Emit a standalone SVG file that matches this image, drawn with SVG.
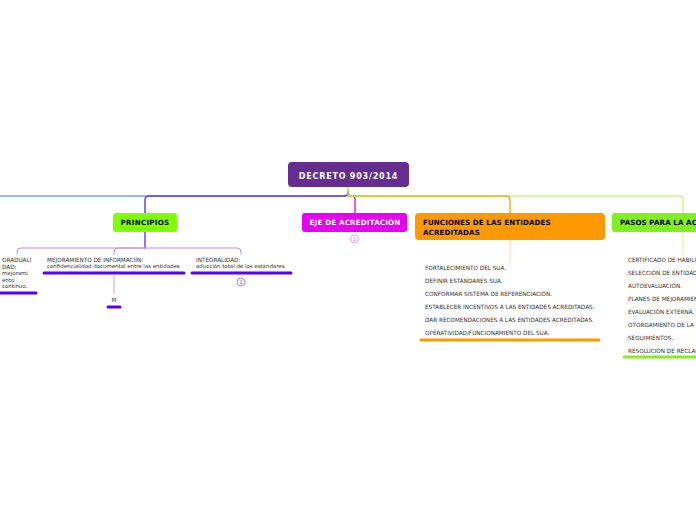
<svg xmlns="http://www.w3.org/2000/svg" width="696" height="520" viewBox="0 0 696 520">
<style>
.t{font-family:"DejaVu Sans",Verdana,sans-serif;}
.b{font-weight:bold;font-size:7.1px;}
.sm{font-size:5.7px;fill:#333;}
.lw{font-size:5.45px;fill:#333;}
.li{font-size:5.7px;fill:#333;}
.ul{fill:none;stroke-width:3;stroke-linecap:round;}
.cn{fill:none;stroke-linecap:round;}
.ci{fill:#fff;stroke-width:0.8;}
</style>
<rect width="696" height="520" fill="#fff"/>
<g id="connectors">
  <path class="cn" d="M348,192 Q348,196 344,196 H0" stroke="#70a4f2" stroke-width="1.5"/>
  <path class="cn" d="M348,192 Q348,196 344,196 H149 Q145,196 145,200 V213" stroke="#6b3cf5" stroke-width="1.5"/>
  <path class="cn" d="M348,192 Q348,196 352,196 Q355,196 355,199 V213" stroke="#e800f0" stroke-width="1.3"/>
  <path class="cn" d="M348,196 H679 Q683,196 683,200 V213" stroke="#c8f890" stroke-width="1.5"/>
  <path class="cn" d="M348,196 H506 Q510,196 510,200 V213" stroke="#ffa000" stroke-width="1.3"/>
  <path class="cn" d="M348,187 V196 H506" stroke="#b8e03c" stroke-width="1.5"/>
  <path class="cn" d="M145,232 V248" stroke="#7a40f0" stroke-width="1.5"/>
  <path class="cn" d="M145,248 H21 Q17,248 17,252 V254" stroke="#b090f5" stroke-width="1"/>
  <path class="cn" d="M145,248 H237 Q241,248 241,252 V254" stroke="#b090f5" stroke-width="1"/>
  <path class="cn" d="M145,248 H118 Q114,248 114,252 V254" stroke="#b090f5" stroke-width="1"/>
  <path class="cn" d="M114,276 V294" stroke="#c0a0f8" stroke-width="1"/>
  <path class="cn" d="M510,240 V262" stroke="#ffd890" stroke-width="1"/>
  <path class="cn" d="M683,232 V253" stroke="#c8f890" stroke-width="1"/>
</g>
<g id="decreto">
  <rect x="288" y="162" width="121" height="25" rx="4" fill="#652d90"/>
  <text class="t" x="348.5" y="178.5" font-size="8" font-weight="bold" fill="#fff" text-anchor="middle" letter-spacing="0.8">DECRETO 903/2014</text>
</g>
<g id="principios">
  <rect x="113" y="213" width="64" height="19" rx="3" fill="#80ff00"/>
  <text class="t b" x="145" y="225" fill="#000" text-anchor="middle" letter-spacing="0.3">PRINCIPIOS</text>
</g>
<g id="gradualidad">
  <text class="t sm" x="2" y="262">GRADUALI</text>
  <text class="t sm" x="2" y="268.5">DAD:</text>
  <text class="t lw" x="2" y="275">mejorami</text>
  <text class="t lw" x="2" y="281.5">ento</text>
  <text class="t lw" x="2" y="288">continuo.</text>
  <path class="ul" d="M0,293 H36" stroke="#5500ff"/>
</g>
<g id="mejoramiento">
  <text class="t sm" x="47" y="262">MEJORAMIENTO DE INFORMACIÍN:</text>
  <text class="t lw" x="47" y="268.3">confidencialidad documental entre las entidades</text>
  <path class="ul" d="M44,273 H184" stroke="#5500ff"/>
</g>
<g id="m">
  <text class="t sm" x="114" y="302" text-anchor="middle">M</text>
  <path class="ul" d="M108,307 H120" stroke="#5500ff"/>
</g>
<g id="integralidad">
  <text class="t sm" x="196" y="262">INTEGRALIDAD:</text>
  <text class="t lw" x="196" y="268.3">aducción total de los estándares.</text>
  <path class="ul" d="M192,273 H291" stroke="#5500ff"/>
  <circle class="ci" cx="241" cy="282" r="4" stroke="#9966ff"/>
  <text class="t" x="241" y="284" font-size="5" fill="#7744dd" text-anchor="middle">1</text>
</g>
<g id="eje">
  <rect x="302" y="213" width="105" height="19" rx="3" fill="#e800f0"/>
  <text class="t b" x="355" y="225" fill="#fff" text-anchor="middle" letter-spacing="0.2">EJE DE ACREDITACIÓN</text>
  <circle class="ci" cx="354.5" cy="239" r="4" stroke="#ee80ee"/>
  <text class="t" x="354.5" y="241" font-size="5" fill="#dd66dd" text-anchor="middle">1</text>
</g>
<g id="funciones">
  <rect x="415" y="213" width="190" height="27" rx="4" fill="#ff9900"/>
  <text class="t b" x="423" y="225" fill="#000" letter-spacing="0.1">FUNCIONES DE LAS ENTIDADES</text>
  <text class="t b" x="423" y="234.5" fill="#000" letter-spacing="0.1">ACREDITADAS</text>
  <text class="t li" x="425" y="270">FORTALECIMIENTO DEL SUA.</text>
  <text class="t li" x="425" y="283">DEFINIR ESTÁNDARES SUA.</text>
  <text class="t li" x="425" y="296">CONFORMAR SISTEMA DE REFERENCIACIÓN.</text>
  <text class="t li" x="425" y="309">ESTABLECER INCENTIVOS A LAS ENTIDADES ACREDITADAS.</text>
  <text class="t li" x="425" y="322">DAR RECOMENDACIONES A LAS ENTIDADES ACREDITADAS.</text>
  <text class="t li" x="425" y="335">OPERATIVIDAD/FUNCIONAMIENTO DEL SUA.</text>
  <path class="ul" d="M421,340 H599" stroke="#ff9900"/>
</g>
<g id="pasos">
  <rect x="612" y="213" width="100" height="19" rx="3" fill="#80f020"/>
  <text class="t b" x="620" y="225" fill="#000" letter-spacing="0.1">PASOS PARA LA ACREDITACIÓN</text>
  <text class="t li" x="628" y="262">CERTIFICADO DE HABILITACIÓN.</text>
  <text class="t li" x="628" y="275">SELECCIÓN DE ENTIDAD ACREDITADORA.</text>
  <text class="t li" x="628" y="288">AUTOEVALUACIÓN.</text>
  <text class="t li" x="628" y="301">PLANES DE MEJORAMIENTO.</text>
  <text class="t li" x="628" y="314">EVALUACIÓN EXTERNA.</text>
  <text class="t li" x="628" y="327">OTORGAMIENTO DE LA ACREDITACIÓN.</text>
  <text class="t li" x="628" y="340">SEGUIMIENTOS.</text>
  <text class="t li" x="628" y="353">RESOLUCIÓN DE RECLAMACIONES.</text>
  <path class="ul" d="M624,357 H700" stroke="#88ee22"/>
</g>
</svg>
